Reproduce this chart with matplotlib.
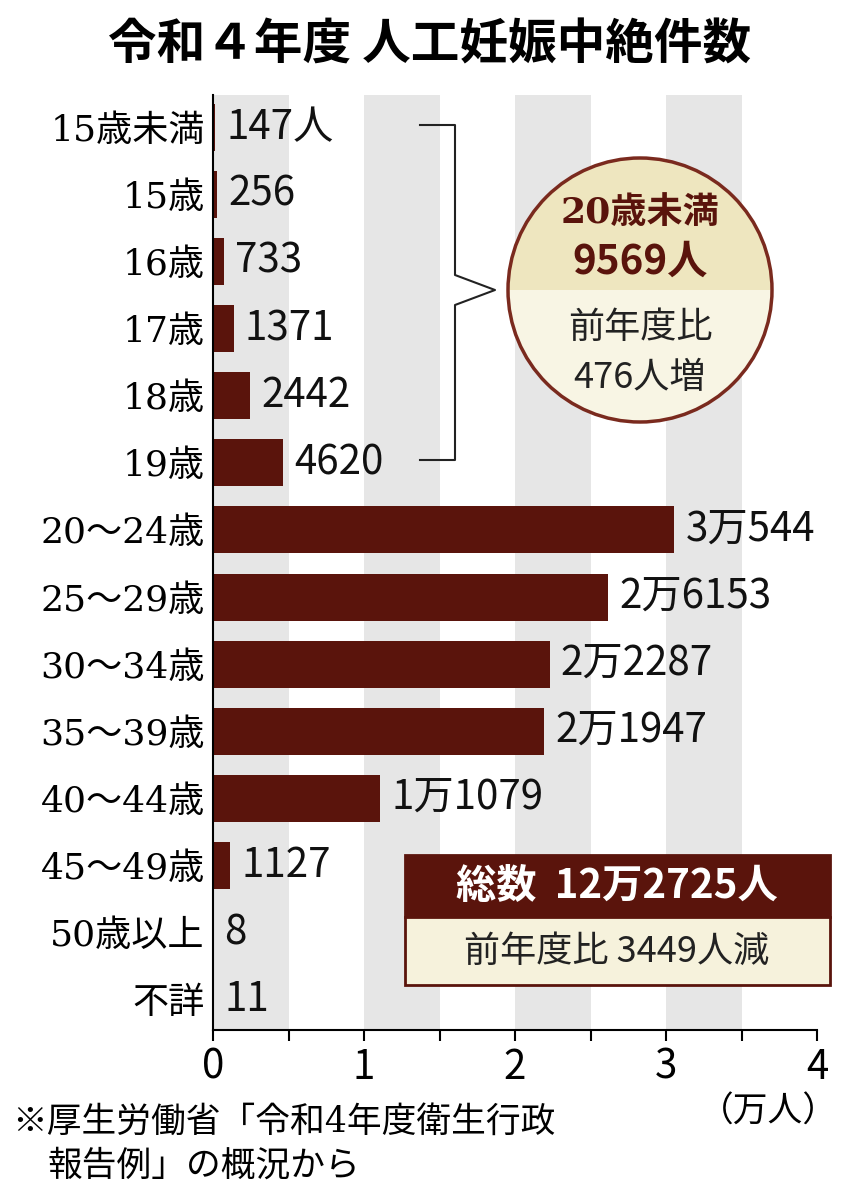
import matplotlib
matplotlib.use("Agg")
import matplotlib.pyplot as plt
from matplotlib.patches import Rectangle, Wedge, Circle

plt.rcParams['font.family'] = ['Noto Sans CJK JP', 'DejaVu Sans']

categories = ["15歳未満", "15歳", "16歳", "17歳", "18歳", "19歳", "20～24歳", "25～29歳",
              "30～34歳", "35～39歳", "40～44歳", "45～49歳", "50歳以上", "不詳"]
counts = [147, 256, 733, 1371, 2442, 4620, 30544, 26153, 22287, 21947, 11079, 1127, 8, 11]
value_labels = ["147人", "256", "733", "1371", "2442", "4620", "3万544", "2万6153",
                "2万2287", "2万1947", "1万1079", "1127", "8", "11"]
xticks = [0, 1, 2, 3, 4]

BAR = "#5a140c"
SERIF = ['DejaVu Serif', 'Noto Sans CJK JP']
W, H = 859, 1200
fig = plt.figure(figsize=(W / 100, H / 100), dpi=100)

ax = fig.add_axes([213 / W, 1 - 1030 / H, (817 - 213) / W, (1030 - 95) / H])
vals = [c / 10000 for c in counts]
ys = range(len(categories))
for x0 in [0, 1, 2, 3]:
    ax.axvspan(x0, x0 + 0.5, color="#e6e6e6", lw=0, zorder=0)
ax.barh(ys, vals, height=0.7, color=BAR, zorder=2)
for y, v, lab in zip(ys, vals, value_labels):
    ax.annotate(lab, (v, y), xytext=(8, 0), textcoords="offset points",
                va="center", ha="left", fontsize=29, color="#111")
ax.set_xlim(0, 4)
ax.set_ylim(13.45, -0.48)
ax.set_yticks(list(ys))
ax.set_yticklabels(categories, fontsize=26, family=SERIF)
ax.set_xticks(xticks)
ax.set_xticks([0.5, 1.5, 2.5, 3.5], minor=True)
ax.set_xticklabels([str(t) for t in xticks], fontsize=29)
ax.tick_params(axis="y", length=0, pad=6)
ax.tick_params(axis="x", which="both", length=8, width=1.5, direction="out", pad=4)
for s in ["top", "right"]:
    ax.spines[s].set_visible(False)
ax.spines["left"].set_linewidth(1.5)
ax.spines["bottom"].set_linewidth(1.5)

# overlay in pixel coordinates for decorations
ov = fig.add_axes([0, 0, 1, 1])
ov.set_xlim(0, W)
ov.set_ylim(H, 0)
ov.axis("off")

ov.text(430, 45, "令和４年度 人工妊娠中絶件数", ha="center", va="center",
        fontsize=35, fontweight="bold")

# bracket
ov.plot([420, 455, 455, 495, 455, 455, 420], [125, 125, 275, 290, 305, 460, 460],
        color="#222", lw=1.5)

# circle
cx, cy, r = 640, 290, 132
ov.add_patch(Wedge((cx, cy), r, 180, 360, facecolor="#eee6bf", lw=0))
ov.add_patch(Wedge((cx, cy), r, 0, 180, facecolor="#f8f5e4", lw=0))
ov.add_patch(Circle((cx, cy), r, fill=False, edgecolor="#7a2a1e", lw=2.5))
ov.text(cx, 213, "20歳未満", ha="center", va="center", fontsize=26,
        fontweight="bold", color="#5a140c", family=SERIF)
ov.text(cx, 262, "9569人", ha="center", va="center", fontsize=29,
        fontweight="bold", color="#5a140c")
ov.text(cx, 328, "前年度比", ha="center", va="center", fontsize=26, color="#222")
ov.text(cx, 378, "476人増", ha="center", va="center", fontsize=26, color="#222")

# total box
ov.add_patch(Rectangle((405, 855), 425, 62, facecolor=BAR, edgecolor=BAR, lw=2))
ov.add_patch(Rectangle((405, 917), 425, 68, facecolor="#f6f2dc", edgecolor=BAR, lw=2))
ov.text(617, 886, "総数  12万2725人", ha="center", va="center", fontsize=29,
        fontweight="bold", color="white")
ov.text(617, 952, "前年度比 3449人減", ha="center", va="center", fontsize=26, color="#222")

ov.text(838, 1112, "（万人）", ha="right", va="center", fontsize=25)
ov.text(12, 1122, "※厚生労働省「令和4年度衛生行政", ha="left", va="center", fontsize=25,
        family=SERIF)
ov.text(48, 1166, "報告例」の概況から", ha="left", va="center", fontsize=25,
        family=SERIF)

fig.savefig("out.png", dpi=100)
